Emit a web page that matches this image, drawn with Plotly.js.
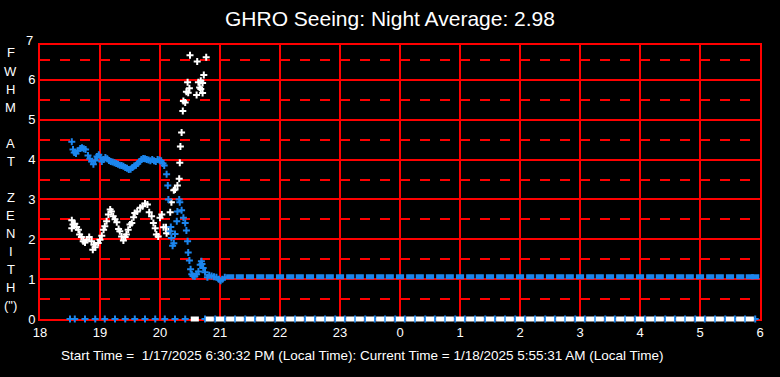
<!DOCTYPE html>
<html>
<head>
<meta charset="utf-8">
<script src="https://cdn.plot.ly/plotly-3.0.1.min.js"></script>
<style>html,body{margin:0;padding:0;background:#000;}#chart{width:780px;height:377px;}</style>
</head>
<body>
<div id="chart"></div>
<script>
// ---- DATA (hours since midnight of start day; 24+ = next morning) ----
const xTickVals = [18,19,20,21,22,23,24,25,26,27,28,29,30];
const xTickText = ["18","19","20","21","22","23","0","1","2","3","4","5","6"];

const blueTimes = [18.53,18.55,18.57,18.60,18.63,18.67,18.70,18.73,18.76,18.80,18.83,18.86,18.89,18.92,18.95,18.98,19.01,19.03,19.06,19.09,19.12,19.15,19.18,19.21,19.24,19.27,19.30,19.33,19.36,19.39,19.42,19.45,19.48,19.51,19.54,19.57,19.60,19.63,19.66,19.69,19.72,19.75,19.78,19.81,19.84,19.87,19.90,19.93,19.96,19.99,20.02,20.05,20.07,20.11,20.13,20.14,20.17,20.18,20.19,20.21,20.23,20.25,20.28,20.29,20.32,20.33,20.36,20.39,20.42,20.44,20.46,20.47,20.49,20.51,20.53,20.55,20.58,20.61,20.64,20.67,20.69,20.70,20.72,20.75,20.79,20.82,20.86,20.90,20.94,20.98,21.01,21.04,21.08];
const blueFwhm  = [4.45,4.25,4.18,4.15,4.22,4.28,4.30,4.27,4.25,4.10,4.02,3.95,3.88,3.98,4.08,4.12,4.05,3.95,4.00,4.05,4.02,3.98,3.95,3.94,3.92,3.90,3.88,3.86,3.85,3.83,3.80,3.78,3.75,3.76,3.80,3.84,3.86,3.90,3.95,4.00,4.03,4.02,4.00,3.99,3.97,4.00,3.97,3.95,4.00,3.99,3.97,3.90,3.85,3.63,3.35,3.00,2.20,2.31,2.03,1.84,1.90,2.13,2.45,2.70,3.00,2.93,2.73,2.54,2.41,2.22,1.95,1.67,1.47,1.25,1.12,1.08,1.07,1.12,1.19,1.36,1.45,1.38,1.28,1.17,1.05,1.10,1.08,1.06,1.05,1.00,0.96,1.00,1.05];

const blueFlatTimes = [21.17,21.33,21.50,21.67,21.83,22.00,22.17,22.33,22.50,22.67,22.83,23.00,23.17,23.33,23.50,23.67,23.83,24.00,24.17,24.33,24.50,24.67,24.83,25.00,25.17,25.33,25.50,25.67,25.83,26.00,26.17,26.33,26.50,26.67,26.83,27.00,27.17,27.33,27.50,27.67,27.83,28.00,28.17,28.33,28.50,28.67,28.83,29.00,29.17,29.33,29.50,29.67,29.83,29.92];
const blueFlatFwhm  = [1.06,1.06,1.06,1.06,1.06,1.06,1.06,1.06,1.06,1.06,1.06,1.06,1.06,1.06,1.06,1.06,1.06,1.06,1.06,1.06,1.06,1.06,1.06,1.06,1.06,1.06,1.06,1.06,1.06,1.06,1.06,1.06,1.06,1.06,1.06,1.06,1.06,1.06,1.06,1.06,1.06,1.06,1.06,1.06,1.06,1.06,1.06,1.06,1.06,1.06,1.06,1.06,1.06,1.06];

const whiteTimes = [18.53,18.55,18.58,18.61,18.53,18.64,18.66,18.69,18.72,18.75,18.78,18.82,18.86,18.90,18.92,18.88,18.97,19.00,19.03,19.06,19.08,19.11,19.14,19.17,19.19,19.22,19.25,19.28,19.31,19.33,19.36,19.39,19.42,19.44,19.47,19.50,19.53,19.56,19.58,19.62,19.67,19.71,19.75,19.79,19.82,19.86,19.89,19.92,19.94,19.97,20.00,20.03,20.06,20.10,20.11,20.14,20.17,20.19,20.23,20.25,20.29,20.32,20.33,20.34,20.36,20.38,20.39,20.42,20.44,20.47,20.46,20.49,20.50,20.61,20.62,20.64,20.66,20.68,20.68,20.71,20.71,20.73,20.77];
const whiteFwhm  = [2.48,2.37,2.39,2.31,2.28,2.24,2.12,2.06,1.95,1.92,1.99,2.06,1.95,1.86,1.80,1.74,1.91,1.99,2.09,2.24,2.33,2.45,2.62,2.75,2.70,2.58,2.50,2.43,2.26,2.20,2.07,1.97,2.06,2.12,2.24,2.37,2.41,2.55,2.66,2.70,2.79,2.83,2.90,2.87,2.68,2.58,2.41,2.28,2.12,2.07,2.54,2.62,2.30,2.30,2.15,2.20,2.68,2.93,3.23,3.25,3.35,3.52,3.92,4.33,4.68,5.22,5.47,5.43,5.70,5.68,5.94,5.79,6.62,5.62,6.46,5.94,5.81,5.77,5.98,5.92,5.67,6.12,6.57];

const blueZeroTimes = [18.50,18.58,18.75,18.92,19.08,19.25,19.42,19.58,19.75,19.92,20.08,20.25,20.42,20.75,20.92,21.08,21.25,21.42,21.58,21.75,21.92,22.08,22.25,22.42,22.58,22.75,22.92,23.08,23.25,23.42,23.58,23.75,23.92,24.08,24.25,24.42,24.58,24.75,24.92,25.08,25.25,25.42,25.58,25.75,25.92,26.08,26.25,26.42,26.58,26.75,26.92,27.08,27.25,27.42,27.58,27.75,27.92,28.08,28.25,28.42,28.58,28.75,28.92,29.08,29.25,29.42,29.58,29.75,29.92];
const blueZeroVals  = blueZeroTimes.map(() => 0);

const whiteZeroTimes = [20.58,20.83,21.00,21.17,21.33,21.50,21.67,21.83,22.00,22.17,22.33,22.50,22.67,22.83,23.00,23.17,23.33,23.50,23.67,23.83,24.00,24.17,24.33,24.50,24.67,24.83,25.00,25.17,25.33,25.50,25.67,25.83,26.00,26.17,26.33,26.50,26.67,26.83,27.00,27.17,27.33,27.50,27.67,27.83,28.00,28.17,28.33,28.50,28.67,28.83,29.00,29.17,29.33,29.50,29.67,29.83];
const whiteZeroVals  = whiteZeroTimes.map(() => 0);

const titleText = "GHRO Seeing: Night Average: 2.98";
const yTitleLetters = ["F","W","H","M","","A","T","","Z","E","N","I","T","H","(\")"];
const footerText = "Start Time =  1/17/2025 6:30:32 PM (Local Time): Current Time = 1/18/2025 5:55:31 AM (Local Time)";

// ---- STYLE ----
const FONT = "Liberation Sans, Arial, sans-serif";
const BLUE = "#1c86ee";
const RED = "#ff0000";
const plotTop = 45, plotBottom = 319, plotLeft = 40, plotW = 720;
const plotH = plotBottom - plotTop;

const crossMarker = c => ({symbol:"cross-thin", size:5, color:c, line:{color:c, width:2}});

const traces = [
  {x: blueZeroTimes, y: blueZeroVals, mode:"markers", type:"scatter", marker: crossMarker(BLUE), cliponaxis:false, hoverinfo:"none"},
  {x: whiteZeroTimes, y: whiteZeroVals, mode:"markers", type:"scatter", cliponaxis:false, hoverinfo:"none",
   marker:{symbol:"line-ew", size:5.8, color:"#fff", line:{color:"#fff", width:5}}},
  {x: whiteTimes, y: whiteFwhm, mode:"markers", type:"scatter", marker: crossMarker("#ffffff"), hoverinfo:"none"},
  {x: blueTimes, y: blueFwhm, mode:"markers", type:"scatter", marker: crossMarker(BLUE), hoverinfo:"none"},
  {x: blueFlatTimes, y: blueFlatFwhm, mode:"markers", type:"scatter", hoverinfo:"none",
   marker:{symbol:"line-ew", size:5.8, color:BLUE, line:{color:BLUE, width:5}}}
];

const annotations = [];
yTitleLetters.forEach((t, i) => {
  if (!t) return;
  const py = 53 + i * 18.07;
  annotations.push({text:t, xref:"paper", yref:"paper", x:(11 - plotLeft)/plotW, y:(plotBottom - py)/plotH,
    xanchor:"center", yanchor:"middle", showarrow:false, font:{family:FONT, size:13, color:"#fff"}});
});
annotations.push({text:"7", xref:"paper", yref:"paper", x:(35 - plotLeft)/plotW, y:(plotBottom - 40)/plotH,
  xanchor:"right", yanchor:"middle", showarrow:false, font:{family:FONT, size:13, color:"#fff"}});
annotations.push({text:footerText, xref:"paper", yref:"paper", x:(362 - plotLeft)/plotW, y:(plotBottom - 355)/plotH,
  xanchor:"center", yanchor:"middle", showarrow:false, font:{family:FONT, size:13.5, color:"#fff"}});

const layout = {
  width:780, height:377,
  margin:{l:plotLeft, r:780 - plotLeft - plotW, t:plotTop, b:377 - plotBottom},
  paper_bgcolor:"#000", plot_bgcolor:"#000",
  showlegend:false,
  title:{text:titleText, x:0.5, xref:"container", xanchor:"center", y:1 - 19/377, yref:"container", yanchor:"middle",
    font:{family:FONT, size:21, color:"#fff"}},
  xaxis:{range:[18,30], tickvals:xTickVals, ticktext:xTickText, showgrid:true, gridcolor:RED, gridwidth:2,
    zeroline:false, showline:true, mirror:true, linecolor:RED, linewidth:2, ticks:"", layer:"below traces",
    tickfont:{family:FONT, size:13, color:"#fff"}},
  yaxis:{range:[0,6.875], tickvals:[0,1,2,3,4,5,6], showgrid:true, gridcolor:RED, gridwidth:2,
    zeroline:false, showline:true, mirror:true, linecolor:RED, linewidth:2, ticks:"", layer:"below traces",
    tickfont:{family:FONT, size:13, color:"#fff"},
    minor:{tickvals:[0.5,1.5,2.5,3.5,4.5,5.5,6.5], showgrid:true, gridcolor:RED, gridwidth:2, griddash:"10px,10px", ticks:""}},
  annotations: annotations
};

Plotly.newPlot("chart", traces, layout, {displayModeBar:false, staticPlot:true});
</script>
</body>
</html>
